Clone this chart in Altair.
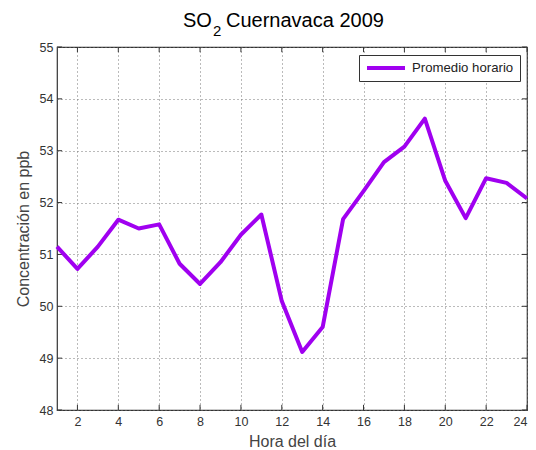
import altair as alt
import pandas as pd

hours = list(range(1, 25))
so2 = [51.15, 50.72, 51.15, 51.67, 51.50, 51.58, 50.82, 50.43, 50.85, 51.38, 51.77, 50.10,
       49.12, 49.60, 51.68, 52.22, 52.78, 53.08, 53.62, 52.42, 51.70, 52.47, 52.38, 52.08]
series_name = "Promedio horario"
x_ticks = list(range(2, 25, 2))
y_ticks = list(range(48, 56))
title_parts = ["SO", "2", "Cuernavaca 2009"]

df = pd.DataFrame({"hora": hours, "conc": so2, "serie": [series_name] * len(hours)})

xs = alt.Scale(domain=[1, 24], nice=False, zero=False)
ys = alt.Scale(domain=[48, 55], nice=False, zero=False)
FONT = "Liberation Sans"

line = alt.Chart(df).mark_line(strokeWidth=4, strokeJoin="round").encode(
    x=alt.X("hora:Q", scale=xs,
            axis=alt.Axis(values=x_ticks, title="Hora del día", grid=True, gridDash=[1, 3],
                          gridColor="#777777", gridWidth=1, domain=False, ticks=False,
                          labelPadding=5, titlePadding=6, labelFontSize=12.5, titleFontSize=16,
                          labelColor="#333333", titleColor="#444444", labelFont=FONT,
                          titleFont=FONT, titleFontWeight="normal", format="d")),
    y=alt.Y("conc:Q", scale=ys,
            axis=alt.Axis(values=y_ticks, title="Concentración en ppb", grid=True, gridDash=[1, 3],
                          gridColor="#777777", gridWidth=1, domain=False, ticks=False,
                          labelPadding=4, titlePadding=8, labelFontSize=12.5, titleFontSize=16,
                          labelColor="#333333", titleColor="#444444", labelFont=FONT,
                          titleFont=FONT, titleFontWeight="normal", format="d")),
    color=alt.Color("serie:N", scale=alt.Scale(range=["#a000f0"]),
                    legend=alt.Legend(title=None, orient="none", legendX=302, legendY=8,
                                      symbolType="stroke", symbolSize=1444, symbolStrokeWidth=4,
                                      clipHeight=14, labelOffset=5,
                                      labelFontSize=13.2, labelFont=FONT,
                                      labelColor="#222222",
                                      strokeColor="#333333", fillColor="white", padding=6,
                                      cornerRadius=0)),
)

# inward ticks on all four sides
tick_len_y = 0.1
tick_len_x = 0.25
xt = pd.DataFrame({"x": x_ticks})
yt = pd.DataFrame({"y": y_ticks})
bottom_ticks = alt.Chart(xt).mark_rule(color="#333333").encode(
    x=alt.X("x:Q", scale=xs), y=alt.Y("y0:Q", scale=ys), y2="y1:Q"
).transform_calculate(y0="48", y1=str(48 + tick_len_y))
top_ticks = alt.Chart(xt).mark_rule(color="#333333").encode(
    x=alt.X("x:Q", scale=xs), y=alt.Y("y0:Q", scale=ys), y2="y1:Q"
).transform_calculate(y0="55", y1=str(55 - tick_len_y))
left_ticks = alt.Chart(yt).mark_rule(color="#333333").encode(
    y=alt.Y("y:Q", scale=ys), x=alt.X("x0:Q", scale=xs), x2="x1:Q"
).transform_calculate(x0="1", x1=str(1 + tick_len_x))
right_ticks = alt.Chart(yt).mark_rule(color="#333333").encode(
    y=alt.Y("y:Q", scale=ys), x=alt.X("x0:Q", scale=xs), x2="x1:Q"
).transform_calculate(x0="24", x1=str(24 - tick_len_x))

# title with a real subscript
t_so = alt.Chart(pd.DataFrame({"t": [title_parts[0]]})).mark_text(
    font=FONT, fontSize=20, align="left", baseline="alphabetic", color="black"
).encode(text="t:N", x=alt.value(126), y=alt.value(-20))
t_sub = alt.Chart(pd.DataFrame({"t": [title_parts[1]]})).mark_text(
    font=FONT, fontSize=15, align="left", baseline="alphabetic", color="black"
).encode(text="t:N", x=alt.value(156), y=alt.value(-11))
t_rest = alt.Chart(pd.DataFrame({"t": [title_parts[2]]})).mark_text(
    font=FONT, fontSize=20, align="left", baseline="alphabetic", color="black"
).encode(text="t:N", x=alt.value(169), y=alt.value(-20))

chart = alt.layer(bottom_ticks, top_ticks, left_ticks, right_ticks, line,
                  t_so, t_sub, t_rest).properties(
    width=470, height=363,
    autosize=alt.AutoSizeParams(type="none"),
    padding={"left": 49, "top": 39, "right": 1, "bottom": 40},
).configure_view(stroke="#333333", strokeWidth=1.2)

chart.save("out.html", embed_options={"renderer": "svg", "actions": False})
